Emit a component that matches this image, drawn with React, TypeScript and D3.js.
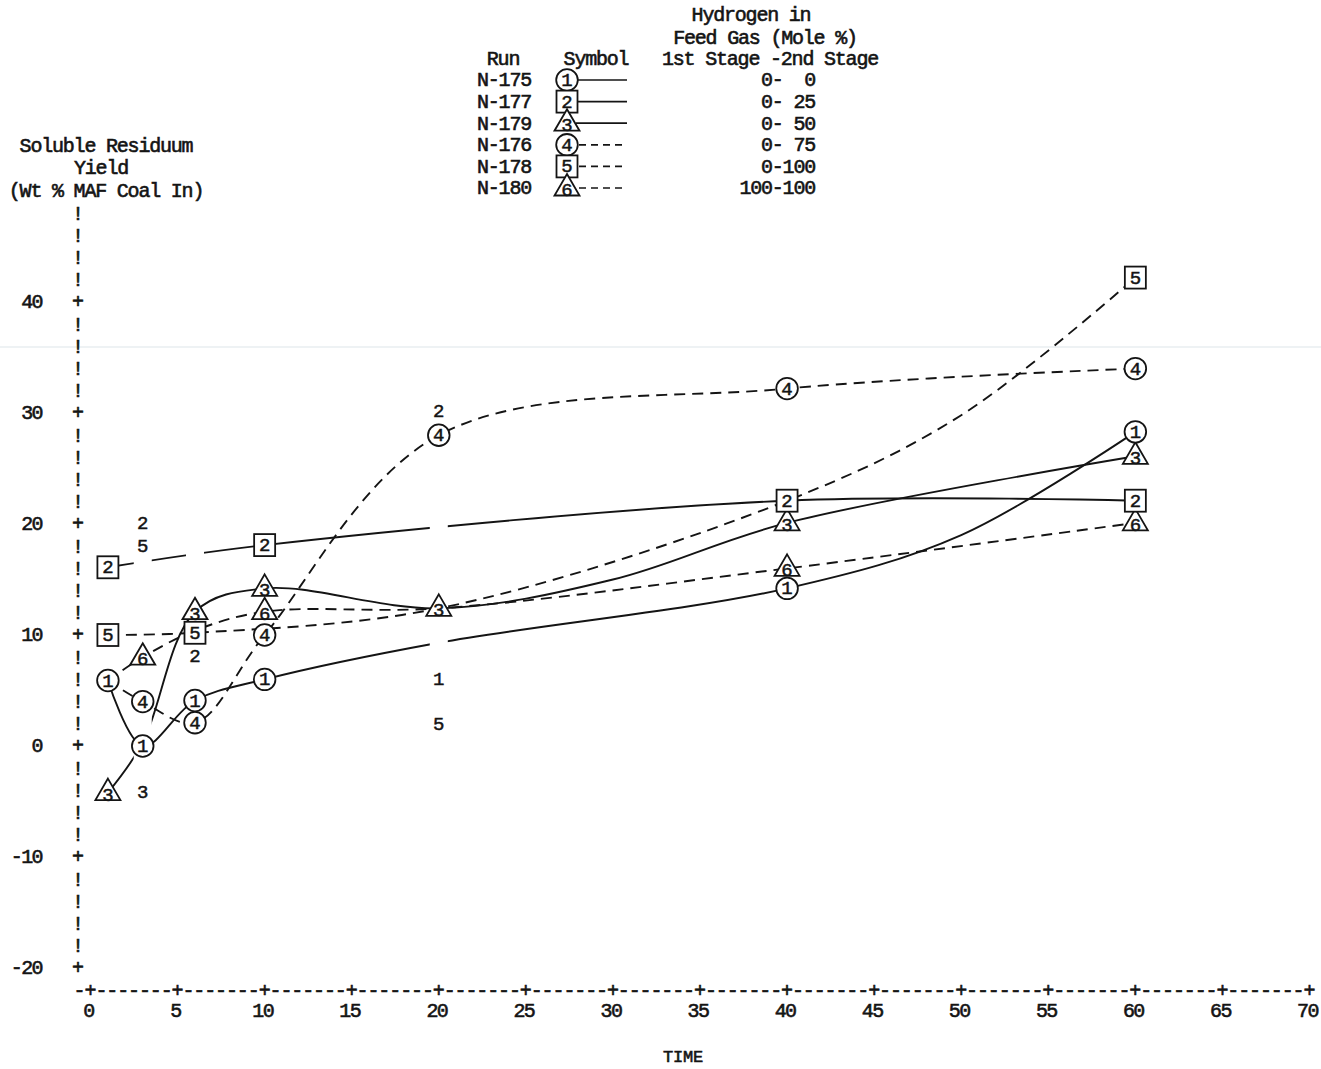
import React from 'react';
import * as d3 from 'd3';

const W = 1321;
const H = 1069;

// Runs, their plotting symbols and the hydrogen content of the feed gas
const runs = ['N-175', 'N-177', 'N-179', 'N-176', 'N-178', 'N-180'];
const symbolShapes = ['circle', 'square', 'triangle', 'circle', 'square', 'triangle'];
const dashedRuns = [false, false, false, true, true, true];
const hydrogenFeed = ['0-  0', '0- 25', '0- 50', '0- 75', '0-100', '100-100'];

// Fitted curve knots per run: [time, soluble residuum yield (wt % MAF coal in)]
const yieldN175 = [[1, 5.9], [3, 0], [6, 4.1], [10, 6.0], [20, 9.3], [40, 14.2], [50, 19.0], [60, 28.3]];
const yieldN177 = [[1, 16.1], [10, 18.1], [40, 22.1], [60, 22.1]];
const yieldN179 = [[1, -4.2], [3, 0.3], [6, 12.1], [10, 14.2], [20, 12.4], [30, 15.0], [40, 20.1], [60, 26.1]];
const yieldN176 = [[1, 5.9], [3, 4.0], [6, 2.1], [10, 10.0], [20, 28.0], [40, 32.2], [60, 34.0]];
const yieldN178 = [[1, 10.0], [6, 10.2], [20, 12.4], [40, 22.1], [50, 29.8], [60, 42.2]];
const yieldN180 = [[1, 5.9], [3, 8.0], [6, 10.4], [10, 12.1], [20, 12.4], [40, 16.0], [60, 20.1]];

// Knot times that carry no symbol of their own (covered by another run's symbol, or curve-only)
const unmarkedN175 = [20, 50];
const unmarkedN177: number[] = [];
const unmarkedN179 = [3, 30];
const unmarkedN176 = [1];
const unmarkedN178 = [20, 40, 50];
const unmarkedN180 = [1, 6, 20];

// Raw points lying off the fitted curve, printed as the bare run number
const strayN175 = [[20, 6.0]];
const strayN177 = [[3, 20.1], [6, 8.1], [20, 30.2]];
const strayN179 = [[3, -4.1]];
const strayN176: number[][] = [];
const strayN178 = [[3, 18.0], [20, 2.0]];
const strayN180: number[][] = [];

const xTicks = d3.range(0, 71, 5);
const yTicks = d3.range(-20, 41, 10);

const knotList = [yieldN175, yieldN177, yieldN179, yieldN176, yieldN178, yieldN180];
const unmarkedList = [unmarkedN175, unmarkedN177, unmarkedN179, unmarkedN176, unmarkedN178, unmarkedN180];
const strayList = [strayN175, strayN177, strayN179, strayN176, strayN178, strayN180];

const FONT = "'Liberation Mono', 'Courier New', monospace";
const FS = 20;
const LS = -1.2;
const INK = '#141414';

type TProps = {
  x: number;
  y: number;
  children: React.ReactNode;
  anchor?: 'start' | 'middle' | 'end';
  size?: number;
  spacing?: number;
  weight?: number;
};

// Text centred vertically on y
const T = ({ x, y, children, anchor = 'middle', size = FS, spacing = LS, weight = 0.6 }: TProps) => (
  <text
    x={x}
    y={y + size * 0.32}
    textAnchor={anchor}
    fontFamily={FONT}
    fontSize={size}
    letterSpacing={spacing}
    fill={INK}
    stroke={INK}
    strokeWidth={weight}
    style={{ whiteSpace: 'pre' }}
  >
    {children}
  </text>
);

const Marker = ({ shape, label, cx, cy }: { shape: string; label: string; cx: number; cy: number }) => {
  const common = { fill: '#fff', stroke: INK, strokeWidth: 1.8 };
  let body: React.ReactNode;
  let dy = 0;
  if (shape === 'circle') {
    body = <circle cx={cx} cy={cy} r={10.8} {...common} />;
  } else if (shape === 'square') {
    body = <rect x={cx - 10.5} y={cy - 11} width={21} height={22} {...common} />;
  } else {
    body = <path d={`M${cx},${cy - 14}L${cx + 12.5},${cy + 7.5}L${cx - 12.5},${cy + 7.5}Z`} {...common} />;
    dy = 2;
  }
  return (
    <g>
      {body}
      <T x={cx} y={cy + dy} size={19} spacing={0} weight={0.5}>
        {label}
      </T>
    </g>
  );
};

export default function App() {
  const x = d3.scaleLinear().domain([0, 70]).range([90.5, 1309.5]);
  const y = d3.scaleLinear().domain([-20, 40]).range([968, 302]);

  const series = runs.map((run, i) => ({
    run,
    label: String(i + 1),
    shape: symbolShapes[i],
    dashed: dashedRuns[i],
    knots: knotList[i],
    unmarked: unmarkedList[i],
    strays: strayList[i],
  }));

  const line = d3
    .line<number[]>()
    .x((d) => x(d[0]))
    .y((d) => y(d[1]))
    .curve(d3.curveCatmullRom.alpha(0.5));

  // Y axis: "+" at labelled ticks, "!" every 2 units between them
  const yMarks = d3.range(-20, 49, 2);
  // X axis row sits one mark below -20; one character every 0.625 time units
  const xRowY = y(-22);
  const xChars = d3.range(-1, 113).map((k) => ({ t: k * 0.625, ch: k >= 0 && k % 8 === 0 ? '+' : '-' }));

  const axisX = 78;
  const legendRowY = (i: number) => 80 + i * 21.6;

  return (
    <svg
      width={W}
      height={H}
      viewBox={`0 0 ${W} ${H}`}
      style={{ position: 'absolute', left: 0, top: 0, background: '#fff' }}
    >
      <rect x={0} y={0} width={W} height={H} fill="#fff" />
      <line x1={0} x2={W} y1={347} y2={347} stroke="#dde5ea" strokeWidth={1.2} />

      <defs>
        {series.map((s, i) => (
          <mask id={`gap-${i}`} key={i} maskUnits="userSpaceOnUse" x={0} y={0} width={W} height={H}>
            <rect x={0} y={0} width={W} height={H} fill="#fff" />
            {!s.dashed &&
              s.strays.map((p, j) => (
                <rect key={j} x={x(p[0]) - 9} y={0} width={18} height={H} fill="#000" />
              ))}
          </mask>
        ))}
      </defs>

      {/* Legend */}
      <T x={751} y={15}>Hydrogen in</T>
      <T x={765} y={38}>Feed Gas (Mole %)</T>
      <T x={503} y={59}>Run</T>
      <T x={596} y={59}>Symbol</T>
      <T x={770} y={59}>1st Stage -2nd Stage</T>
      {series.map((s, i) => (
        <g key={s.run}>
          <T x={504} y={legendRowY(i)}>{s.run}</T>
          <line
            x1={576}
            x2={627}
            y1={legendRowY(i)}
            y2={legendRowY(i)}
            stroke={INK}
            strokeWidth={1.7}
            strokeDasharray={s.dashed ? '7 5' : undefined}
            strokeDashoffset={s.dashed ? -3 : undefined}
          />
          <Marker shape={s.shape} label={s.label} cx={567} cy={legendRowY(i)} />
          <T x={815} y={legendRowY(i)} anchor="end">
            {hydrogenFeed[i]}
          </T>
        </g>
      ))}

      {/* Y axis title */}
      <T x={106} y={146}>Soluble Residuum</T>
      <T x={101} y={168}>Yield</T>
      <T x={106} y={191}>(Wt % MAF Coal In)</T>

      {/* Y axis */}
      {yMarks.map((v) => (
        <T key={v} x={axisX} y={y(v)} spacing={0}>
          {v % 10 === 0 ? '+' : '!'}
        </T>
      ))}
      {yTicks.map((v) => (
        <T key={v} x={42} y={y(v)} anchor="end" spacing={-1.6}>
          {String(v)}
        </T>
      ))}

      {/* X axis */}
      {xChars.map((c, k) => (
        <T key={k} x={x(c.t)} y={xRowY} spacing={0}>
          {c.ch}
        </T>
      ))}
      {xTicks.map((t) => (
        <T key={t} x={x(t) - 2} y={1011} spacing={-1.6}>
          {String(t)}
        </T>
      ))}
      <T x={683} y={1057} size={17} spacing={-0.2}>
        TIME
      </T>

      {/* Fitted curves */}
      {series.map((s, i) => (
        <path
          key={s.run}
          d={line(s.knots) || ''}
          fill="none"
          stroke={INK}
          strokeWidth={1.9}
          strokeDasharray={s.dashed ? '11 7' : undefined}
          mask={`url(#gap-${i})`}
        />
      ))}

      {/* Off-curve raw points */}
      {series.map((s) =>
        s.strays.map((p, j) => (
          <T key={`${s.run}-${j}`} x={x(p[0])} y={y(p[1])} size={19} spacing={0} weight={0.5}>
            {s.label}
          </T>
        ))
      )}

      {/* Symbols, lower run numbers on top */}
      {series
        .slice()
        .reverse()
        .map((s) =>
          s.knots
            .filter((p) => !s.unmarked.includes(p[0]))
            .map((p) => (
              <Marker key={`${s.run}-${p[0]}`} shape={s.shape} label={s.label} cx={x(p[0])} cy={y(p[1])} />
            ))
        )}
    </svg>
  );
}
